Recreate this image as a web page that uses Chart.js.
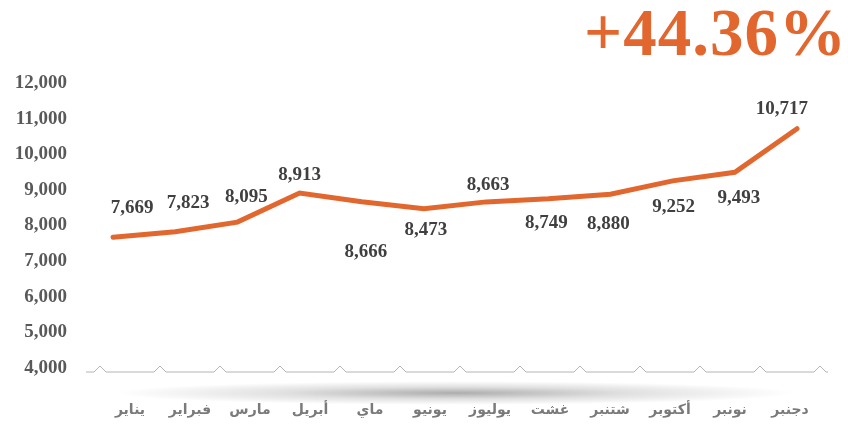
<!DOCTYPE html>
<html>
<head>
<meta charset="utf-8">
<script src="https://cdn.jsdelivr.net/npm/chart.js@4.4.1/dist/chart.umd.min.js"></script>
<style>
  body { margin: 0; background: #fff; }
  #wrap { position: relative; width: 848px; height: 430px; }
  #growth {
    position: absolute; right: 1px; top: -6px;
    font: bold 67px "Liberation Serif", "Times New Roman", serif;
    color: #E2672F; letter-spacing: 1px;
  }
</style>
</head>
<body>
<div id="wrap">
  <canvas id="salesChart" width="848" height="430"></canvas>
  <div id="growth">+44.36%</div>
</div>
<script>
// months (Moroccan Arabic names), monthly values
const months = ["يناير", "فبراير", "مارس", "أبريل", "ماي", "يونيو", "يوليوز", "غشت", "شتنبر", "أكتوبر", "نونبر", "دجنبر"];
const values = [7669, 7823, 8095, 8913, 8666, 8473, 8663, 8749, 8880, 9252, 9493, 10717];
const yTicks = [4000, 5000, 6000, 7000, 8000, 9000, 10000, 11000, 12000];

// label placement relative to each point (px)
const labelDx = [19, 13, 9, 0, 4, 2, 2, -2, -2, 1, 4, -15];
const labelDy = [-29, -29, -25, -18, 50, 21, -17, 24, 30, 26, 26, -20];

const ORANGE = "#E2672F";
const fmt = v => Number(v).toLocaleString("en-US");

// soft shadow under the axis
const shadowPlugin = {
  id: "shadow",
  beforeDraw(chart) {
    const ctx = chart.ctx;
    const cx = (chart.chartArea.left + chart.chartArea.right) / 2 - 5;
    const cy = chart.chartArea.bottom + 25;
    ctx.save();
    ctx.translate(cx, cy);
    ctx.scale(1, 0.035);
    const g = ctx.createRadialGradient(0, 0, 0, 0, 0, 340);
    g.addColorStop(0, "rgba(0,0,0,0.32)");
    g.addColorStop(0.5, "rgba(0,0,0,0.12)");
    g.addColorStop(1, "rgba(0,0,0,0)");
    ctx.fillStyle = g;
    ctx.beginPath();
    ctx.arc(0, 0, 340, 0, Math.PI * 2);
    ctx.fill();
    ctx.restore();
  }
};

// baseline with little bumps at category boundaries
const zigzagPlugin = {
  id: "zigzag",
  beforeDatasetsDraw(chart) {
    const ctx = chart.ctx;
    const x = chart.scales.x;
    const y = chart.scales.y.bottom + 4;
    const step = x.width / months.length;
    ctx.save();
    ctx.strokeStyle = "#b4b4b4";
    ctx.lineWidth = 1;
    ctx.beginPath();
    ctx.moveTo(x.left - 14, y);
    for (let i = 0; i <= months.length; i++) {
      const bx = x.getPixelForTick(Math.min(i, months.length - 1)) + (i < months.length ? -step / 2 : step / 2);
      ctx.lineTo(bx - 6, y);
      ctx.lineTo(bx, y - 6);
      ctx.lineTo(bx + 6, y);
    }
    ctx.lineTo(x.right + 8, y);
    ctx.stroke();
    ctx.restore();
  }
};

// value labels
const valueLabels = {
  id: "valueLabels",
  afterDatasetsDraw(chart) {
    const ctx = chart.ctx;
    const meta = chart.getDatasetMeta(0);
    ctx.save();
    ctx.font = "bold 19px 'Liberation Serif', serif";
    ctx.fillStyle = "#404040";
    ctx.textAlign = "center";
    ctx.textBaseline = "middle";
    meta.data.forEach((pt, i) => {
      ctx.fillText(fmt(values[i]), pt.x + labelDx[i], pt.y + labelDy[i]);
    });
    ctx.restore();
  }
};

new Chart(document.getElementById("salesChart"), {
  type: "line",
  data: {
    labels: months,
    datasets: [{
      data: values.map((v, i) => ({ x: i, y: v })),
      xAxisID: "xLine",
      borderColor: ORANGE,
      borderWidth: 5,
      borderCapStyle: "round",
      borderJoinStyle: "miter",
      pointRadius: 0,
      tension: 0
    }]
  },
  options: {
    responsive: false,
    animation: false,
    layout: { padding: { top: 83, right: 28, left: 0, bottom: 0 } },
    plugins: { legend: { display: false }, tooltip: { enabled: false } },
    scales: {
      x: {
        type: "category",
        offset: true,
        grid: { display: false, drawTicks: false },
        border: { display: false },
        ticks: {
          padding: 34,
          color: "#7a7a7a",
          font: { family: "'DejaVu Sans', sans-serif", size: 14, weight: "bold" },
          maxRotation: 0
        },
        afterFit: s => { s.height = 62; }
      },
      xLine: {
        type: "linear",
        display: false,
        min: -0.21,
        max: 11.37
      },
      y: {
        min: yTicks[0],
        max: yTicks[yTicks.length - 1],
        grid: { display: false, drawTicks: false },
        border: { display: false },
        afterBuildTicks: s => { s.ticks = yTicks.map(v => ({ value: v })); },
        ticks: {
          padding: 33,
          color: "#595959",
          font: { family: "'Liberation Serif', serif", size: 19, weight: "bold" },
          callback: v => fmt(v)
        },
        afterFit: s => { s.width = 100; }
      }
    }
  },
  plugins: [shadowPlugin, zigzagPlugin, valueLabels]
});
</script>
</body>
</html>
